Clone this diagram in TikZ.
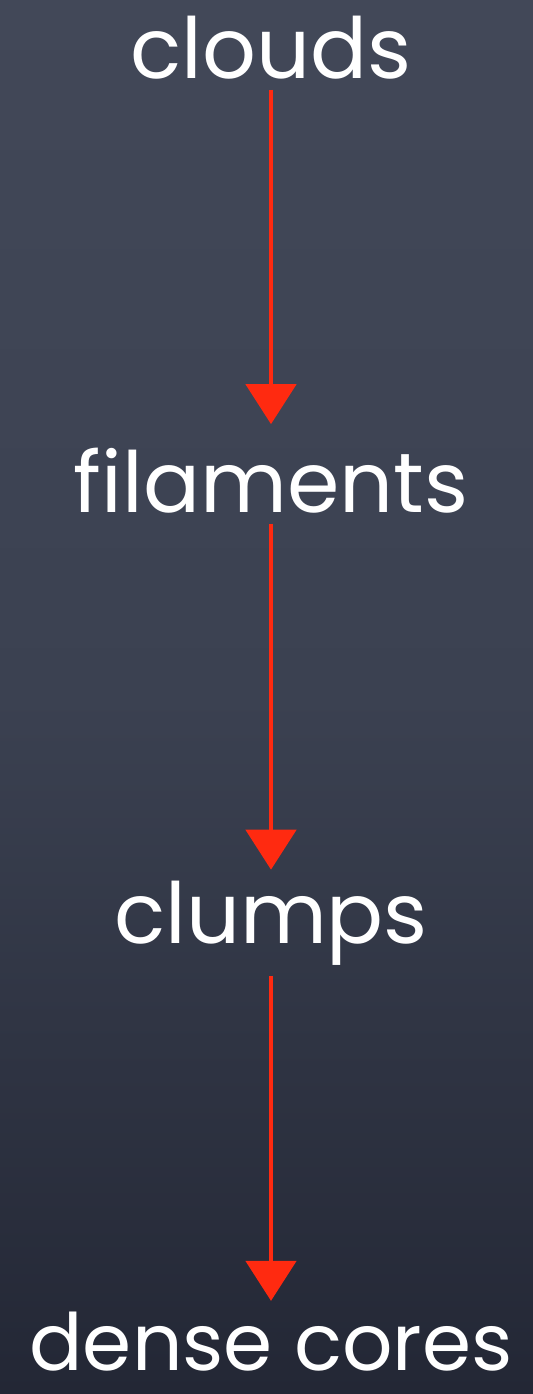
\documentclass[tikz,border=0pt]{standalone}
\usepackage{fontspec}
\setmainfont{Poppins}
\usetikzlibrary{arrows.meta}

\definecolor{board}{HTML}{3B4151}
\definecolor{boardtop}{HTML}{424858}
\definecolor{boardbot}{HTML}{232735}
\definecolor{chalkred}{HTML}{FF2A10}

\begin{document}
\begin{tikzpicture}[
            stage/.style={text=white, inner sep=6pt, anchor=base,
                          font=\fontsize{48}{48}\selectfont},
            arr/.style={draw=chalkred, line width=2.8pt,
                        -{Triangle[length=0.8cm, width=1.0cm]}}
        ]
        % Chalkboard
        \shade[top color=boardtop, bottom color=boardbot, middle color=board]
            (0,0) rectangle (10.66,-27.88);
        \useasboundingbox (0,0) rectangle (10.66,-27.88);

        % Stage nodes
        \node[stage] (clouds)    at (5.42,-1.56)  {clouds};
        \node[stage] (filaments) at (5.42,-10.24) {filaments};
        \node[stage] (clumps)    at (5.42,-18.86) {clumps};
        \node[stage, inner sep=3pt, font=\fontsize{45}{45}\selectfont]
                     (cores)     at (5.42,-27.40) {dense cores};

        % Arrows between stages
        \draw[arr, shorten >=0.25cm] (clouds) -- (filaments);
        \draw[arr] (filaments) -- (clumps);
        \draw[arr, shorten >=0.1cm] (clumps) -- (cores);
    \end{tikzpicture}
\end{document}
